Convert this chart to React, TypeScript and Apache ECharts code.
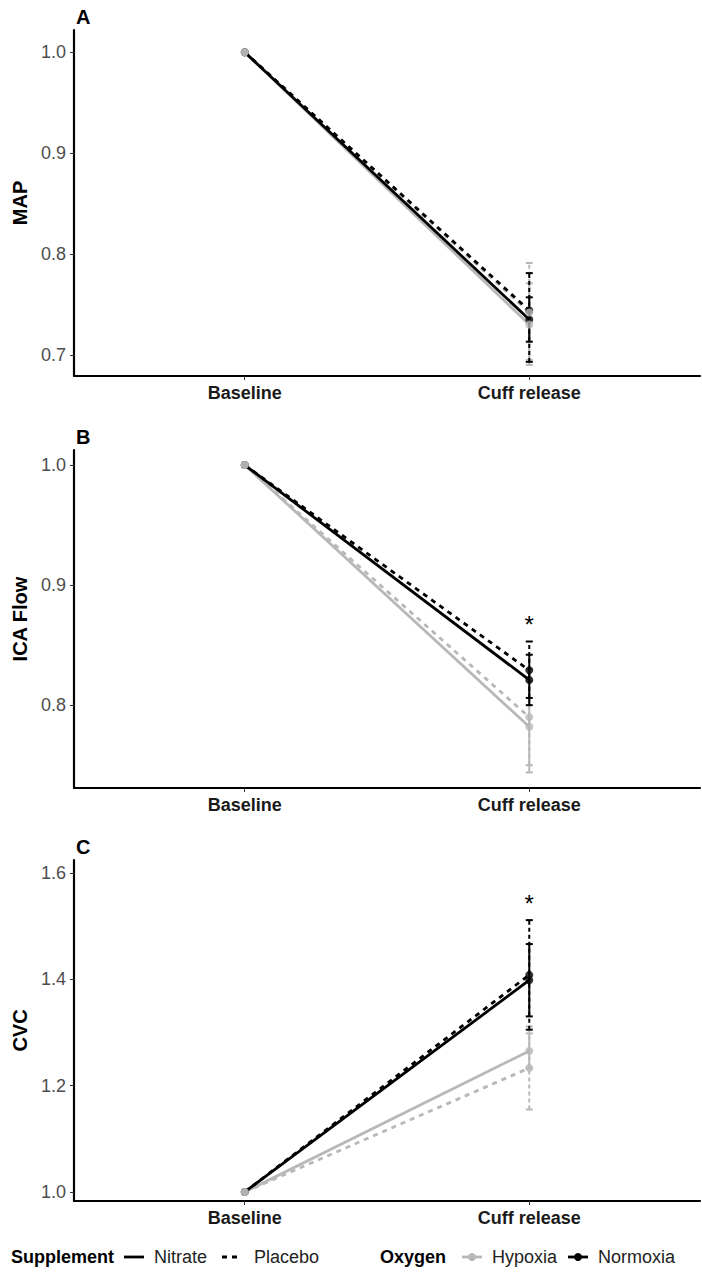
import React, { useEffect, useRef } from "react";
import * as echarts from "echarts";

// ---- data ----
const timepoints = ["Baseline", "Cuff release"];
const timeX = [1, 2];
// group order: Nitrate/Hypoxia, Nitrate/Normoxia, Placebo/Hypoxia, Placebo/Normoxia
const supplements = ["Nitrate", "Nitrate", "Placebo", "Placebo"];
const oxygens = ["Hypoxia", "Normoxia", "Hypoxia", "Normoxia"];
const baselineMean = [1.0, 1.0, 1.0, 1.0];

const mapCuffMean = [0.73, 0.735, 0.742, 0.744];
const mapCuffLow = [0.69, 0.713, 0.695, 0.693];
const mapCuffHigh = [0.771, 0.757, 0.791, 0.781];

const icaCuffMean = [0.782, 0.821, 0.79, 0.829];
const icaCuffLow = [0.744, 0.8, 0.75, 0.806];
const icaCuffHigh = [0.82, 0.842, 0.83, 0.853];

const cvcCuffMean = [1.265, 1.398, 1.233, 1.408];
const cvcCuffLow = [1.232, 1.33, 1.155, 1.305];
const cvcCuffHigh = [1.298, 1.466, 1.311, 1.511];

const mapTicks = [0.7, 0.8, 0.9, 1.0];
const icaTicks = [0.8, 0.9, 1.0];
const cvcTicks = [1.0, 1.2, 1.4, 1.6];

const icaStar = [2, 0.8725];
const cvcStar = [2, 1.553];

// ---- styling ----
const FONT = "'Liberation Sans', Arial, Helvetica, sans-serif";
const GREY = "#B8B8B8";
const BLACK = "#000000";
const oxygenColor: Record<string, string> = { Hypoxia: GREY, Normoxia: BLACK };
const supplementDash: Record<string, any> = { Nitrate: "solid", Placebo: [5, 5] };

const panels = [
  { tag: "A", name: "MAP", mean: mapCuffMean, low: mapCuffLow, high: mapCuffHigh, ticks: mapTicks, min: 0.679, max: 1.022, top: 30, height: 346, star: null as number[] | null },
  { tag: "B", name: "ICA Flow", mean: icaCuffMean, low: icaCuffLow, high: icaCuffHigh, ticks: icaTicks, min: 0.731, max: 1.0125, top: 450, height: 338, star: icaStar },
  { tag: "C", name: "CVC", mean: cvcCuffMean, low: cvcCuffLow, high: cvcCuffHigh, ticks: cvcTicks, min: 0.983, max: 1.624, top: 860, height: 341, star: cvcStar },
];

// draw grey groups first, black on top (lines / error bars)
const drawOrder = [0, 2, 1, 3];
// points: black first, grey on top
const pointOrder = [1, 3, 0, 2];

function buildOption() {
  const grid: any[] = [];
  const xAxis: any[] = [];
  const yAxis: any[] = [];
  const series: any[] = [];
  const graphic: any[] = [];

  panels.forEach((p, i) => {
    grid.push({ left: 74, right: 2, top: p.top, height: p.height, containLabel: false });
    xAxis.push({
      gridIndex: i,
      type: "value",
      min: 0.4,
      max: 2.6,
      axisLine: { show: true, onZero: false, lineStyle: { color: "#000", width: 2.2 } },
      axisTick: { show: true, customValues: timeX, length: 4, lineStyle: { color: "#333", width: 1 } },
      axisLabel: {
        customValues: timeX,
        formatter: (v: number) => timepoints[timeX.indexOf(Math.round(v))] ?? "",
        fontFamily: FONT,
        fontWeight: "bold",
        fontSize: 18,
        color: "#1a1a1a",
        margin: 8,
      },
      splitLine: { show: false },
    });
    yAxis.push({
      gridIndex: i,
      type: "value",
      min: p.min,
      max: p.max,
      name: p.name,
      nameLocation: "middle",
      nameGap: 38,
      nameRotate: 90,
      nameTextStyle: { fontFamily: FONT, fontWeight: "bold", fontSize: 20, color: "#000" },
      axisLine: { show: true, onZero: false, lineStyle: { color: "#000", width: 2.2 } },
      axisTick: { show: true, customValues: p.ticks, length: 4, lineStyle: { color: "#333", width: 1 } },
      axisLabel: {
        customValues: p.ticks,
        formatter: (v: number) => v.toFixed(1),
        fontFamily: FONT,
        fontSize: 18,
        color: "#4D4D4D",
        margin: 8,
      },
      splitLine: { show: false },
    });

    // lines
    drawOrder.forEach((g) => {
      series.push({
        type: "line",
        name: `${supplements[g]} ${oxygens[g]}`,
        xAxisIndex: i,
        yAxisIndex: i,
        z: 2,
        showSymbol: false,
        symbol: "none",
        silent: true,
        data: [
          [timeX[0], baselineMean[g]],
          [timeX[1], p.mean[g]],
        ],
        lineStyle: { color: oxygenColor[oxygens[g]], width: 2.8, type: supplementDash[supplements[g]] },
      });
    });

    // error bars
    drawOrder.forEach((g) => {
      const color = oxygenColor[oxygens[g]];
      const dashed = supplements[g] === "Placebo";
      series.push({
        type: "custom",
        xAxisIndex: i,
        yAxisIndex: i,
        z: 3,
        silent: true,
        data: [[timeX[1], p.low[g], p.high[g]]],
        renderItem: (params: any, api: any) => {
          const x = api.value(0);
          const a = api.coord([x, api.value(1)]);
          const b = api.coord([x, api.value(2)]);
          const w = 3.5;
          const style = { stroke: color, lineWidth: 2, lineDash: dashed ? [4, 3] : null, fill: null };
          return {
            type: "group",
            children: [
              { type: "line", shape: { x1: a[0], y1: a[1], x2: b[0], y2: b[1] }, style },
              { type: "line", shape: { x1: a[0] - w, y1: a[1], x2: a[0] + w, y2: a[1] }, style: { stroke: color, lineWidth: 2 } },
              { type: "line", shape: { x1: b[0] - w, y1: b[1], x2: b[0] + w, y2: b[1] }, style: { stroke: color, lineWidth: 2 } },
            ],
          };
        },
      });
    });

    // points
    pointOrder.forEach((g) => {
      series.push({
        type: "scatter",
        xAxisIndex: i,
        yAxisIndex: i,
        z: 4,
        silent: true,
        symbol: "circle",
        symbolSize: 8,
        itemStyle: { color: oxygenColor[oxygens[g]] },
        data: [
          [timeX[0], baselineMean[g]],
          [timeX[1], p.mean[g]],
        ],
      });
    });

    // significance star
    if (p.star) {
      series.push({
        type: "custom",
        xAxisIndex: i,
        yAxisIndex: i,
        z: 5,
        silent: true,
        data: [p.star],
        renderItem: (params: any, api: any) => {
          const c = api.coord([api.value(0), api.value(1)]);
          return {
            type: "text",
            style: {
              text: "*",
              x: c[0],
              y: c[1] + 6,
              textAlign: "center",
              textVerticalAlign: "middle",
              font: `24px ${FONT}`,
              fill: "#000",
            },
          };
        },
      });
    }

    // panel tag
    graphic.push({
      type: "text",
      left: 76,
      top: p.top - 23,
      style: { text: p.tag, font: `bold 20px ${FONT}`, fill: "#000" },
    });
  });

  // legend (drawn as graphic)
  const ly = 1257;
  const txt = (x: number, text: string, bold = false) => ({
    type: "text",
    x,
    y: ly,
    style: { text, font: `${bold ? "bold " : ""}18px ${FONT}`, fill: bold ? "#000" : "#222", textAlign: "left", textVerticalAlign: "middle" },
  });
  const key = (x: number, color: string, dash: any, point: boolean) => {
    const items: any[] = [
      { type: "line", shape: { x1: x, y1: ly, x2: x + 20, y2: ly }, style: { stroke: color, lineWidth: 2.8, lineDash: dash } },
    ];
    if (point) items.push({ type: "circle", shape: { cx: x + 10, cy: ly, r: 4 }, style: { fill: color } });
    return items;
  };
  graphic.push(txt(11, "Supplement", true));
  graphic.push(...key(124, BLACK, null, false));
  graphic.push(txt(154, "Nitrate"));
  graphic.push(...key(222, BLACK, [5, 5], false));
  graphic.push(txt(254, "Placebo"));
  graphic.push(txt(380, "Oxygen", true));
  graphic.push(...key(462, GREY, null, true));
  graphic.push(txt(492, "Hypoxia"));
  graphic.push(...key(568, BLACK, null, true));
  graphic.push(txt(598, "Normoxia"));

  return {
    animation: false,
    backgroundColor: "#ffffff",
    textStyle: { fontFamily: FONT },
    grid,
    xAxis,
    yAxis,
    series,
    graphic,
  };
}

export default function App() {
  const ref = useRef<HTMLDivElement>(null);
  useEffect(() => {
    document.body.style.margin = "0";
    if (!ref.current) return;
    const chart = echarts.init(ref.current, undefined, { renderer: "svg" });
    chart.setOption(buildOption() as any);
    return () => chart.dispose();
  }, []);
  return <div ref={ref} style={{ width: 702, height: 1274 }} />;
}
